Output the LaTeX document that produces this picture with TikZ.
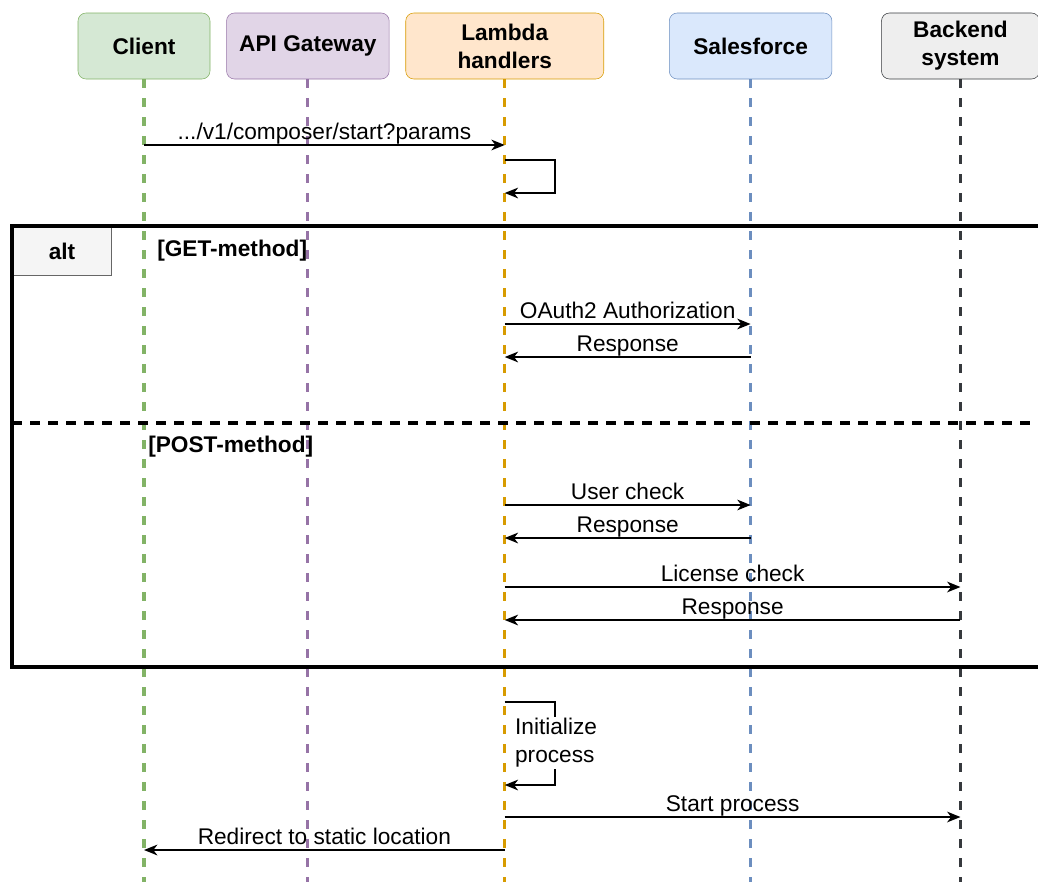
\documentclass[tikz,border=0pt]{standalone}
\usepackage{fontspec}
\setmainfont{Liberation Sans}
\usepackage{xcolor}
\usetikzlibrary{positioning, arrows.meta}

\definecolor{cliline}{HTML}{82B366}
\definecolor{clifill}{HTML}{D5E8D4}
\definecolor{apiline}{HTML}{9673A6}
\definecolor{apifill}{HTML}{E1D5E7}
\definecolor{lamline}{HTML}{D79B00}
\definecolor{lamfill}{HTML}{FFE6CC}
\definecolor{sfline}{HTML}{6C8EBF}
\definecolor{sffill}{HTML}{DAE8FC}
\definecolor{beline}{HTML}{36393D}
\definecolor{befill}{HTML}{EEEEEE}
\definecolor{tabfill}{HTML}{F5F5F5}
\definecolor{tabline}{HTML}{666666}

\begin{document}
\begin{tikzpicture}[x=0.75pt, y=-0.75pt,
    node distance = 12pt,% gap between the heads
    font = \fontsize{17}{21}\selectfont,
    head/.style = {draw, rounded corners=6pt, minimum height=49.5pt, align=center,
                   font=\fontsize{17}{21}\selectfont\bfseries},% lifeline heads
    life/.style = {line width=2.4pt, dash pattern=on 6.75pt off 7.5pt},% lifelines
    msg/.style = {-{Stealth[length=10pt, width=8pt, inset=3pt]}, line width=1.4pt},% messages
    lbl/.style = {midway, anchor=base, inner sep=0pt, yshift=4pt},% message texts
    guard/.style = {anchor=west, inner sep=0pt, font=\fontsize{17}{21}\selectfont\bfseries}
    ]
    \clip (0,0) rectangle (1038,882);
    \coordinate (bot) at (0,882);

    % heads
    \node (cli) [head, fill=clifill, draw=cliline, minimum width=99pt] at (144,46) {Client};
    \node (api) [head, fill=apifill, draw=apiline, minimum width=122pt, right=of cli] {API Gateway};
    \node (lam) [head, fill=lamfill, draw=lamline, minimum width=148.5pt, right=of api] {Lambda\\handlers};
    \node (sf) [head, fill=sffill, draw=sfline, minimum width=122pt, right=48.75pt of lam] {Salesforce};
    \node (be) [head, fill=befill, draw=beline, minimum width=118.5pt, right=36.75pt of sf] {Backend\\system};

    % lifelines
    \draw[life, draw=cliline] (cli) -- (cli |- bot);
    \draw[life, draw=apiline] (api) -- (api |- bot);
    \draw[life, draw=lamline] (lam) -- (lam |- bot);
    \draw[life, draw=sfline] (sf) -- (sf |- bot);
    \draw[life, draw=beline] (be) -- (be |- bot);

    % alt frame
    \node (alt) [draw=tabline, fill=tabfill, line width=0.75pt, minimum width=74.25pt,
                 minimum height=36.75pt, anchor=north west,
                 font=\fontsize{17}{21}\selectfont\bfseries] at (12,226) {alt};
    \draw[line width=2.6pt] (1045,226) -| (12,667) -- (1045,667);
    \draw[line width=2.4pt, dash pattern=on 7.5pt off 6pt] (12,423) -- (1045,423);
    \node (get) [guard] at (157,251) {[GET-method]};
    \node (post) [guard] at (148,447) {[POST-method]};

    % messages
    \draw[msg] (cli |- 0,145) -- node[lbl] {.../v1/composer/start?params} (lam |- 0,145);
    \draw[msg] (lam |- 0,160) -- ++(50,0) |- (lam |- 0,193);
    \draw[msg] (lam |- 0,324) -- node[lbl] {OAuth2 Authorization} (sf |- 0,324);
    \draw[msg] (sf |- 0,357) -- node[lbl] {Response} (lam |- 0,357);
    \draw[msg] (lam |- 0,505) -- node[lbl] {User check} (sf |- 0,505);
    \draw[msg] (sf |- 0,538) -- node[lbl] {Response} (lam |- 0,538);
    \draw[msg] (lam |- 0,587) -- node[lbl] {License check} (be |- 0,587);
    \draw[msg] (be |- 0,620) -- node[lbl] {Response} (lam |- 0,620);
    \draw[msg] (lam |- 0,702) -- ++(50,0) |- (lam |- 0,785);
    \node (init) [fill=white, align=left, anchor=west, inner sep=1pt] at (513.5,743) {Initialize\\process};
    \draw[msg] (lam |- 0,817) -- node[lbl] {Start process} (be |- 0,817);
    \draw[msg] (lam |- 0,850) -- node[lbl] {Redirect to static location} (cli |- 0,850);
\end{tikzpicture}
\end{document}
